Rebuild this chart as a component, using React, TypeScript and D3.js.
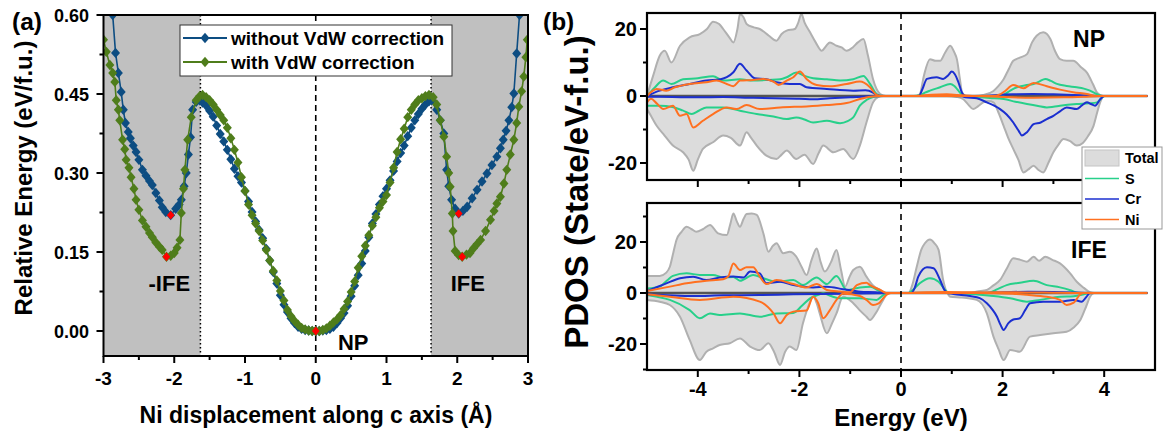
import React from 'react';
import * as d3 from 'd3';

const FONT = "'Liberation Sans', Arial, Helvetica, sans-serif";

// ---------- Panel (a) data: [displacement (Å), relative energy (eV/f.u.)] ----------
const withoutVdW: [number, number][] = [
  [-2.95, 0.72], [-2.87, 0.60], [-2.83, 0.528], [-2.79, 0.49], [-2.75, 0.454], [-2.72, 0.42], [-2.69, 0.395],
  [-2.65, 0.378], [-2.62, 0.366], [-2.58, 0.352], [-2.54, 0.340], [-2.50, 0.325], [-2.45, 0.306], [-2.40, 0.295],
  [-2.35, 0.285], [-2.31, 0.277], [-2.26, 0.262], [-2.21, 0.248], [-2.17, 0.235], [-2.12, 0.226], [-2.05, 0.220],
  [-1.98, 0.232], [-1.93, 0.240], [-1.90, 0.249], [-1.86, 0.275], [-1.83, 0.300], [-1.80, 0.335], [-1.77, 0.368],
  [-1.74, 0.420], [-1.69, 0.435], [-1.64, 0.438],
  [-1.60, 0.434], [-1.55, 0.428], [-1.50, 0.418], [-1.45, 0.407], [-1.40, 0.390], [-1.35, 0.374], [-1.30, 0.360],
  [-1.25, 0.344], [-1.20, 0.326], [-1.15, 0.308], [-1.10, 0.294], [-1.05, 0.282], [-1.00, 0.266], [-0.95, 0.246],
  [-0.90, 0.226], [-0.85, 0.208], [-0.80, 0.192], [-0.75, 0.176], [-0.70, 0.156], [-0.65, 0.134], [-0.60, 0.112],
  [-0.55, 0.090], [-0.50, 0.068], [-0.45, 0.050], [-0.40, 0.036], [-0.35, 0.024], [-0.30, 0.015], [-0.25, 0.008],
  [-0.20, 0.004], [-0.15, 0.002], [-0.10, 0.001], [-0.05, 0.000], [0.00, 0.000], [0.05, 0.000], [0.10, 0.001],
  [0.15, 0.002], [0.20, 0.004], [0.25, 0.008], [0.30, 0.015], [0.35, 0.024], [0.40, 0.034], [0.45, 0.048],
  [0.50, 0.066], [0.55, 0.086], [0.60, 0.106], [0.65, 0.128], [0.70, 0.152], [0.75, 0.178], [0.80, 0.204],
  [0.85, 0.222], [0.90, 0.240], [0.95, 0.256], [1.00, 0.270], [1.05, 0.286], [1.10, 0.304], [1.15, 0.322],
  [1.20, 0.338], [1.25, 0.352], [1.30, 0.370], [1.35, 0.386], [1.40, 0.400], [1.45, 0.412], [1.50, 0.422],
  [1.55, 0.430], [1.60, 0.436], [1.64, 0.438],
  [1.71, 0.420], [1.76, 0.400], [1.81, 0.375], [1.85, 0.306], [1.88, 0.275], [1.92, 0.249], [1.97, 0.232],
  [2.02, 0.223], [2.08, 0.228], [2.14, 0.236], [2.21, 0.252], [2.28, 0.268], [2.35, 0.284], [2.42, 0.299],
  [2.49, 0.315], [2.56, 0.331], [2.61, 0.347], [2.65, 0.363], [2.69, 0.380], [2.73, 0.400], [2.77, 0.425],
  [2.80, 0.451], [2.84, 0.527], [2.88, 0.600], [2.92, 0.680],
];

const withVdW: [number, number][] = [
  [-3.00, 0.553], [-2.96, 0.530], [-2.91, 0.505], [-2.87, 0.490], [-2.84, 0.473], [-2.82, 0.438], [-2.79, 0.420],
  [-2.77, 0.400], [-2.73, 0.363], [-2.70, 0.345], [-2.68, 0.325], [-2.64, 0.310], [-2.61, 0.292], [-2.57, 0.270],
  [-2.54, 0.249], [-2.50, 0.230], [-2.45, 0.210], [-2.40, 0.198], [-2.35, 0.186], [-2.31, 0.178], [-2.26, 0.168],
  [-2.21, 0.160], [-2.17, 0.154], [-2.11, 0.141], [-2.05, 0.143], [-2.00, 0.148], [-1.96, 0.158], [-1.92, 0.173],
  [-1.90, 0.224], [-1.87, 0.270], [-1.85, 0.306], [-1.81, 0.363], [-1.76, 0.406], [-1.69, 0.438], [-1.64, 0.446],
  [-1.60, 0.448], [-1.55, 0.444], [-1.50, 0.438], [-1.45, 0.430], [-1.40, 0.420], [-1.35, 0.410], [-1.30, 0.400],
  [-1.25, 0.386], [-1.20, 0.366], [-1.15, 0.344], [-1.10, 0.320], [-1.05, 0.292], [-1.00, 0.266], [-0.95, 0.240],
  [-0.90, 0.220], [-0.85, 0.204], [-0.80, 0.190], [-0.75, 0.172], [-0.70, 0.154], [-0.65, 0.134], [-0.60, 0.114],
  [-0.55, 0.096], [-0.50, 0.076], [-0.45, 0.058], [-0.40, 0.040], [-0.35, 0.028], [-0.30, 0.019], [-0.25, 0.012],
  [-0.20, 0.006], [-0.15, 0.003], [-0.10, 0.001], [-0.05, 0.000], [0.00, 0.000], [0.05, 0.000], [0.10, 0.002],
  [0.15, 0.005], [0.20, 0.010], [0.25, 0.016], [0.30, 0.022], [0.35, 0.030], [0.40, 0.042], [0.45, 0.056],
  [0.50, 0.074], [0.55, 0.094], [0.60, 0.120], [0.65, 0.142], [0.70, 0.162], [0.75, 0.182], [0.80, 0.200],
  [0.85, 0.216], [0.90, 0.234], [0.95, 0.246], [1.00, 0.258], [1.05, 0.282], [1.10, 0.310], [1.15, 0.340],
  [1.20, 0.364], [1.25, 0.384], [1.30, 0.406], [1.35, 0.420], [1.40, 0.430], [1.45, 0.438], [1.50, 0.442],
  [1.55, 0.446], [1.60, 0.448], [1.66, 0.444],
  [1.71, 0.430], [1.76, 0.400], [1.81, 0.369], [1.85, 0.331], [1.88, 0.300], [1.90, 0.274], [1.93, 0.223],
  [1.94, 0.190], [1.97, 0.152], [2.02, 0.144], [2.07, 0.141], [2.13, 0.145], [2.18, 0.148], [2.23, 0.157],
  [2.28, 0.165], [2.33, 0.173], [2.40, 0.190], [2.47, 0.211], [2.52, 0.228], [2.56, 0.242], [2.61, 0.255],
  [2.66, 0.280], [2.70, 0.306], [2.75, 0.335], [2.80, 0.363], [2.84, 0.395], [2.87, 0.426], [2.91, 0.455],
  [2.94, 0.483], [2.97, 0.520], [2.99, 0.553],
];

const minimaPoints: [number, number][] = [
  [-2.05, 0.220], [-2.11, 0.141], [0.0, 0.0], [2.02, 0.223], [2.07, 0.141],
];

const aXTicks = [-3, -2, -1, 0, 1, 2, 3];
const aXMinor = [-2.5, -1.5, -0.5, 0.5, 1.5, 2.5];
const aYTicks = [0, 0.15, 0.3, 0.45, 0.6];
const aYMinor = [0.075, 0.225, 0.375, 0.525];
const aBoundary = 1.63;

// ---------- Panel (b) data: [energy (eV), PDOS] ----------
const npTotUp: [number, number][] = [
  [-5.0, 0], [-4.88, 6], [-4.75, 12], [-4.65, 13.5], [-4.52, 10], [-4.35, 15], [-4.16, 17.5], [-3.96, 18.5],
  [-3.82, 20], [-3.70, 22.2], [-3.58, 21.5], [-3.50, 20], [-3.38, 17.5], [-3.30, 16], [-3.22, 20], [-3.17, 24.5],
  [-3.10, 23.5], [-3.04, 21.5], [-2.90, 20.5], [-2.78, 20], [-2.60, 18], [-2.45, 16.5], [-2.35, 18.5],
  [-2.25, 19.5], [-2.09, 20], [-2.02, 22], [-1.96, 24.5], [-1.90, 22], [-1.79, 19], [-1.68, 16], [-1.56, 13.5],
  [-1.47, 15], [-1.40, 16], [-1.27, 15], [-1.17, 14.5], [-1.07, 13.5], [-0.95, 14.5], [-0.85, 16], [-0.74, 17],
  [-0.65, 12], [-0.55, 5], [-0.41, 0.6], [-0.30, 0],
  [0.30, 0], [0.37, 0.5], [0.45, 6], [0.57, 11], [0.68, 10.5], [0.77, 10.5], [0.87, 13], [0.97, 15], [1.05, 13],
  [1.10, 11], [1.16, 5], [1.20, 1.1], [1.28, 0],
  [1.45, 0], [1.62, 0.3], [1.82, 1.5], [1.92, 3], [2.02, 5], [2.12, 8], [2.21, 10.5], [2.35, 11.5], [2.48, 12.5],
  [2.58, 16], [2.67, 18], [2.80, 19], [2.94, 17], [3.03, 13.5], [3.13, 11], [3.26, 10.5], [3.39, 10.5],
  [3.55, 8.5], [3.66, 7], [3.78, 3.5], [3.86, 1], [3.98, 0], [4.85, 0],
];
const npTotDn: [number, number][] = [
  [-5.0, -3.9], [-4.92, -6], [-4.81, -8.9], [-4.68, -11.3], [-4.49, -14.8], [-4.29, -16.8], [-4.18, -19],
  [-4.09, -22.3], [-4.0, -19], [-3.90, -15.8], [-3.70, -13.8], [-3.50, -11.8], [-3.35, -12.5], [-3.17, -14.8],
  [-3.04, -10.8], [-2.95, -12.5], [-2.84, -14.8], [-2.65, -17.8], [-2.45, -18.8], [-2.35, -17.5], [-2.25, -16.3],
  [-2.06, -18.8], [-1.90, -17.5], [-1.73, -20.3], [-1.62, -17], [-1.53, -14.8], [-1.33, -16.8], [-1.14, -15.8],
  [-0.94, -18.8], [-0.81, -14.8], [-0.68, -7.9], [-0.55, -1.9], [-0.45, -0.3], [-0.35, 0],
  [0.9, 0], [1.1, -0.3], [1.22, -0.9], [1.32, -2.5], [1.42, -3.9], [1.52, -3], [1.62, -1.9], [1.72, -1.5],
  [1.82, -1.9], [1.92, -5], [2.02, -8.9], [2.11, -12.5], [2.21, -15.8], [2.31, -19], [2.41, -22.8], [2.50, -22],
  [2.61, -20.8], [2.70, -22], [2.80, -22.8], [2.90, -20], [3.00, -16.8], [3.10, -14.5], [3.20, -12.8],
  [3.33, -13.5], [3.46, -14.8], [3.58, -14], [3.68, -12], [3.79, -8.9], [3.86, -5], [3.92, -1.9], [4.0, 0], [4.85, 0],
];
const npSUp: [number, number][] = [
  [-5, 0], [-4.85, 2.5], [-4.68, 4.6], [-4.52, 3.6], [-4.29, 5], [-4.0, 5.3], [-3.70, 5.9], [-3.50, 4.6],
  [-3.17, 5], [-2.91, 4.6], [-2.60, 4.8], [-2.38, 5], [-2.25, 5.6], [-2.06, 7], [-1.90, 6], [-1.73, 5.3],
  [-1.46, 5], [-1.20, 4.6], [-0.94, 5], [-0.74, 6], [-0.61, 3.6], [-0.48, 0.6], [-0.38, 0],
  [0.25, 0], [0.37, 0.2], [0.47, 1], [0.57, 1.6], [0.77, 2.6], [0.97, 3.6], [1.05, 3], [1.13, 1.6], [1.22, 0.2], [1.3, 0],
  [1.95, 0], [2.05, 0.6], [2.15, 1.6], [2.28, 2.6], [2.45, 3.2], [2.61, 3.6], [2.72, 4.3], [2.84, 5.1], [2.95, 4.5],
  [3.07, 3.6], [3.26, 3], [3.46, 2.6], [3.60, 2.2], [3.72, 1.6], [3.85, 0.6], [3.95, 0], [4.85, 0],
];
const npSDn: [number, number][] = [
  [-5, -2.9], [-4.75, -2.9], [-4.5, -3.3], [-4.3, -4.3], [-4.12, -5.4], [-3.98, -4.4], [-3.83, -3.4], [-3.50, -3.4],
  [-3.17, -4.4], [-2.84, -5.4], [-2.51, -6.1], [-2.25, -6.9], [-2.06, -6.4], [-1.90, -7], [-1.73, -7.9],
  [-1.46, -7.4], [-1.20, -8.1], [-1.05, -7.5], [-0.94, -6.4], [-0.81, -2.9], [-0.68, -1.2], [-0.55, -0.3], [-0.45, 0],
  [1.2, 0], [1.5, -0.3], [1.75, -0.6], [2.02, -0.9], [2.25, -1.7], [2.48, -2.4], [2.70, -3], [2.87, -3.4], [3.0, -3.2],
  [3.13, -2.9], [3.46, -2.4], [3.70, -2.2], [3.86, -1.9], [3.95, -0.5], [4.02, 0], [4.85, 0],
];
const npCrUp: [number, number][] = [
  [-5, 0], [-4.75, 1.6], [-4.49, 2.6], [-4.16, 3.6], [-3.83, 4.6], [-3.55, 5], [-3.43, 5.6], [-3.30, 7.1],
  [-3.17, 9.6], [-3.04, 7.6], [-2.88, 5.3], [-2.65, 5], [-2.45, 4.1], [-2.19, 3.6], [-1.99, 3.6], [-1.86, 2.6],
  [-1.46, 2.1], [-0.94, 1.6], [-0.7, 1.7], [-0.55, 1], [-0.48, 0.3], [-0.4, 0],
  [0.35, 0], [0.42, 2], [0.51, 5.1], [0.70, 5.6], [0.83, 5.1], [0.93, 6.2], [1.0, 7.3], [1.06, 6.5], [1.13, 4.1],
  [1.20, 1], [1.26, 0],
  [1.6, 0], [1.9, 0.3], [2.2, 0.5], [2.6, 0.6], [3.0, 0.5], [3.4, 0.3], [3.7, 0.1], [3.9, 0], [4.85, 0],
];
const npCrDn: [number, number][] = [
  [-5, -0.2], [-4.5, -0.3], [-4.0, -0.4], [-3.5, -0.3], [-3.0, -0.5], [-2.5, -0.7], [-2.0, -0.8], [-1.73, -1.0],
  [-1.4, -0.7], [-1.0, -0.4], [-0.6, -0.1], [-0.4, 0],
  [1.2, 0], [1.26, -0.4], [1.49, -0.7], [1.69, -1.9], [1.95, -3.9], [2.08, -5.5], [2.21, -7.9], [2.32, -10.5],
  [2.38, -11.8], [2.48, -10.8], [2.61, -8.4], [2.75, -7.9], [2.87, -6.9], [3.0, -5.9], [3.13, -4.6], [3.26, -3.4],
  [3.46, -3.9], [3.56, -2.8], [3.66, -1.9], [3.74, -2.4], [3.82, -2.9], [3.92, -1], [4.0, 0], [4.85, 0],
];
const npNiUp: [number, number][] = [
  [-5, 0], [-4.81, 2.1], [-4.62, 1.6], [-4.45, 2.6], [-4.16, 3.6], [-3.83, 4.1], [-3.63, 4.6], [-3.43, 3.6],
  [-3.30, 2.9], [-3.17, 4.6], [-2.91, 4.8], [-2.71, 5.1], [-2.51, 4.3], [-2.41, 3.3], [-2.25, 4.6], [-2.12, 5.6],
  [-1.99, 7.3], [-1.86, 5.1], [-1.66, 3.3], [-1.40, 2.9], [-1.07, 3.6], [-0.81, 4.3], [-0.61, 2.6], [-0.48, 0.3], [-0.4, 0],
  [0.3, 0], [0.6, 0.4], [0.9, 0.5], [1.2, 0.2], [1.4, 0],
  [1.8, 0], [1.95, 0.5], [2.05, 1.5], [2.21, 3.3], [2.41, 2.3], [2.61, 3.9], [2.87, 2.9], [3.13, 1.9], [3.39, 1.1],
  [3.66, 0.6], [3.85, 0], [4.85, 0],
];
const npNiDn: [number, number][] = [
  [-5, -1.9], [-4.92, -0.8], [-4.81, -2.2], [-4.68, -3.9], [-4.49, -2.9], [-4.35, -5.9], [-4.22, -5.4],
  [-4.09, -9.4], [-3.90, -7.4], [-3.70, -5.4], [-3.43, -3.4], [-3.24, -3.9], [-3.04, -2.7], [-2.78, -3.9],
  [-2.38, -3.4], [-1.86, -3.1], [-1.46, -2.7], [-1.07, -2.1], [-0.81, -0.9], [-0.6, -0.2], [-0.45, 0],
  [1.5, 0], [2.0, -0.3], [2.6, -0.5], [3.2, -0.4], [3.6, -0.2], [3.9, 0], [4.85, 0],
];

const ifeTotUp: [number, number][] = [
  [-5, 6.7], [-4.75, 6.7], [-4.62, 8], [-4.55, 10.3], [-4.48, 16], [-4.42, 20.8], [-4.32, 24], [-4.22, 26],
  [-4.12, 25], [-4.03, 24], [-3.90, 25], [-3.76, 26.7], [-3.60, 23.4], [-3.43, 22.7], [-3.36, 27], [-3.30, 31.2],
  [-3.23, 28], [-3.17, 26], [-3.10, 29], [-3.04, 31], [-2.94, 31.2], [-2.84, 30.6], [-2.71, 23.4], [-2.61, 16.2],
  [-2.52, 18.5], [-2.45, 19.5], [-2.32, 15.6], [-2.19, 16.2], [-2.06, 14.2], [-1.95, 10], [-1.86, 7.1],
  [-1.76, 13], [-1.66, 17.5], [-1.58, 12], [-1.50, 8.4], [-1.38, 12], [-1.27, 16.9], [-1.18, 9], [-1.10, 2.5],
  [-1.02, 6], [-0.94, 9], [-0.81, 10.3], [-0.68, 6.4], [-0.55, 3], [-0.41, 1.2], [-0.3, 0],
  [0.15, 0], [0.22, 3], [0.31, 10.3], [0.40, 17], [0.47, 19.5], [0.57, 21], [0.66, 19.5], [0.74, 16.9],
  [0.83, 5.1], [0.93, 0],
  [1.35, 0], [1.5, 0.6], [1.69, 1.2], [1.82, 3], [1.95, 5.1], [2.08, 9.5], [2.21, 13.6], [2.35, 13], [2.48, 12.3],
  [2.61, 14.2], [2.72, 12.6], [2.84, 14.2], [2.98, 13], [3.13, 11.6], [3.33, 7.7], [3.46, 4.4], [3.60, 2],
  [3.72, 0.3], [3.8, 0], [4.85, 0],
];
const ifeTotDn: [number, number][] = [
  [-5, -2.7], [-4.75, -3.4], [-4.55, -4.7], [-4.35, -9.3], [-4.16, -18.4], [-3.96, -26.3], [-3.83, -23],
  [-3.70, -21.7], [-3.57, -20.4], [-3.37, -19.7], [-3.17, -17.8], [-2.97, -21], [-2.78, -22.4], [-2.61, -19.7],
  [-2.50, -23], [-2.38, -28.2], [-2.28, -23], [-2.19, -21], [-2.06, -22.4], [-1.93, -11.9], [-1.80, -4],
  [-1.73, -1.5], [-1.66, -4], [-1.60, -8], [-1.46, -15.8], [-1.36, -12], [-1.27, -8], [-1.14, -1.5], [-0.94, -4],
  [-0.80, -7], [-0.68, -9.3], [-0.61, -10.6], [-0.50, -8], [-0.35, -2.7], [-0.25, 0],
  [0.9, 0], [0.97, -1.5], [1.2, -1.8], [1.49, -2.7], [1.69, -8], [1.82, -17.1], [1.92, -22], [2.02, -26.3],
  [2.15, -22.4], [2.34, -23], [2.54, -17.1], [2.74, -16.5], [3.0, -15.8], [3.26, -15.2], [3.40, -13.5],
  [3.53, -10.6], [3.65, -5], [3.72, -1.5], [3.8, 0], [4.85, 0],
];
const ifeSUp: [number, number][] = [
  [-5, 1.8], [-4.75, 2.5], [-4.60, 5], [-4.49, 6.7], [-4.22, 7.7], [-3.96, 7.1], [-3.70, 7.1], [-3.50, 6.1],
  [-3.30, 6.3], [-3.17, 4.8], [-2.91, 7.1], [-2.71, 5.8], [-2.45, 4.4], [-2.12, 5.1], [-1.93, 3.1], [-1.66, 6.1],
  [-1.46, 3.5], [-1.27, 6.7], [-1.07, 1.2], [-0.81, 2.2], [-0.6, 2.5], [-0.45, 1], [-0.35, 0],
  [0.15, 0], [0.25, 1.5], [0.37, 3.8], [0.57, 5.8], [0.74, 4.4], [0.87, 1.2], [0.95, 0],
  [1.7, 0], [1.9, 1.5], [2.08, 3.1], [2.34, 4], [2.61, 4.8], [2.87, 3.1], [3.13, 2.2], [3.35, 1], [3.5, 0], [4.85, 0],
];
const ifeSDn: [number, number][] = [
  [-5, -0.8], [-4.8, -1.5], [-4.55, -2.7], [-4.16, -6.7], [-3.96, -9.9], [-3.76, -8], [-3.57, -8.6], [-3.17, -8],
  [-2.78, -9.3], [-2.45, -8], [-2.12, -7.8], [-1.95, -5], [-1.79, -2.1], [-1.60, -0.5], [-1.53, -0.1],
  [-1.38, -1.2], [-1.20, -2.1], [-0.81, -2.1], [-0.48, -2.7], [-0.35, -0.8], [-0.25, 0],
  [1.0, 0], [1.4, -0.4], [1.82, -1.2], [2.15, -2.1], [2.48, -3.4], [2.74, -2.7], [3.13, -1.5], [3.4, -1.3],
  [3.6, -0.5], [3.7, 0], [4.85, 0],
];
const ifeCrUp: [number, number][] = [
  [-5, 0.8], [-4.62, 3.8], [-4.35, 5.8], [-4.09, 6.4], [-3.83, 5.1], [-3.57, 6.1], [-3.30, 6.5], [-3.10, 6.1],
  [-2.97, 8.4], [-2.78, 7.7], [-2.65, 3.8], [-2.38, 4.4], [-2.12, 3.1], [-1.73, 2.2], [-1.46, 2.5], [-1.14, 1.5],
  [-0.8, 0.5], [-0.5, 0.3], [-0.3, 0],
  [0.2, 0], [0.27, 2], [0.34, 6.4], [0.51, 10.1], [0.64, 9.7], [0.77, 5.1], [0.86, 1], [0.92, 0],
  [1.6, 0], [2.0, 0.3], [2.5, 0.5], [3.0, 0.4], [3.4, 0.2], [3.7, 0], [4.85, 0],
];
const ifeCrDn: [number, number][] = [
  [-5, -0.5], [-4.09, -1.2], [-3.5, -0.9], [-2.78, -0.8], [-2.12, -0.5], [-1.14, -0.3], [-0.5, -0.1], [-0.3, 0],
  [0.92, 0], [1.03, -0.4], [1.36, -1.2], [1.55, -2], [1.69, -4], [1.80, -6.5], [1.89, -9.3], [1.96, -12.5],
  [2.02, -14.5], [2.11, -11.9], [2.20, -10.5], [2.34, -9.9], [2.45, -6.5], [2.54, -4], [2.80, -3.4], [3.13, -3.4],
  [3.40, -2.7], [3.56, -3.4], [3.65, -1.5], [3.72, 0], [4.85, 0],
];
const ifeNiUp: [number, number][] = [
  [-5, 0.8], [-4.55, 2.5], [-4.22, 3.8], [-3.83, 4.8], [-3.50, 5.4], [-3.40, 6.5], [-3.30, 11.6], [-3.17, 9],
  [-3.04, 10.1], [-2.91, 10.1], [-2.78, 6.4], [-2.65, 3.5], [-2.45, 5.1], [-2.12, 3.5], [-1.86, 2.2], [-1.66, 3.5],
  [-1.46, 1.2], [-1.2, 0.6], [-1.0, 0.3], [-0.87, 3.1], [-0.68, 4], [-0.61, 3.1], [-0.41, 1.2], [-0.29, 0],
  [0.2, 0], [0.5, 0.3], [0.9, 0.4], [1.3, 0.3], [1.6, 0.2], [2.2, 0.3], [2.6, 0.2], [3.0, 0.1], [3.4, 0], [4.85, 0],
];
const ifeNiDn: [number, number][] = [
  [-5, -0.5], [-4.55, -1.5], [-3.96, -2.7], [-3.30, -1.5], [-2.78, -3.4], [-2.51, -8], [-2.38, -11.9],
  [-2.25, -8.6], [-2.12, -7.3], [-1.86, -6.9], [-1.73, -1.5], [-1.63, -4], [-1.53, -9.9], [-1.40, -6.7],
  [-1.27, -2.7], [-1.14, -0.3], [-0.81, -1.2], [-0.68, -2.7], [-0.55, -4.7], [-0.45, -4.2], [-0.29, -0.8], [-0.2, 0],
  [1.5, 0], [2.2, -0.3], [2.48, -0.7], [2.87, -1.5], [3.13, -2.7], [3.26, -4.7], [3.40, -3.8], [3.53, -0.5],
  [3.6, 0], [4.85, 0],
];

const bXTicks = [-4, -2, 0, 2, 4];
const bXMinor = [-3, -1, 1, 3];
const bYTicks = [-20, 0, 20];
const bTopYMinor = [-10, 10];
const bBotYMinor = [-30, -10, 10, 30];

const legendA = ['without VdW correction', 'with VdW correction'];
const legendB = ['Total', 'S', 'Cr', 'Ni'];

const C_BLUE = '#0d4d82';
const C_GREEN = '#4f7d1b';
const C_S = '#27d08a';
const C_CR = '#1b2fd0';
const C_NI = '#ff7020';
const C_TOT_FILL = '#dcdcdc';
const C_TOT_LINE = '#b0b0b0';

function diamondPath(cx: number, cy: number, hw = 4.5, hh = 5.2) {
  return `M${cx},${cy - hh}L${cx + hw},${cy}L${cx},${cy + hh}L${cx - hw},${cy}Z`;
}

type Sub = {
  id: string;
  top: number;
  bottom: number;
  y0: number;
  y20: number;
  minor: number[];
  tUp: [number, number][];
  tDn: [number, number][];
  sUp: [number, number][];
  sDn: [number, number][];
  crUp: [number, number][];
  crDn: [number, number][];
  niUp: [number, number][];
  niDn: [number, number][];
  label: string;
  labelY: number;
  showXLabels: boolean;
};

export default function App() {
  // ---------- Panel (a) ----------
  const aL = 103.5, aR = 528, aT = 15, aB = 356;
  const xA = d3.scaleLinear().domain([-3, 3]).range([aL, aR]);
  const yA = d3.scaleLinear().domain([0, 0.6]).range([331, aT]);
  const lineA = d3.line<[number, number]>().x((d) => xA(d[0])).y((d) => yA(d[1]));

  // ---------- Panel (b) ----------
  const bL = 647, bR = 1155;
  const xB = d3.scaleLinear().domain([-5, 5]).range([bL, bR]);

  const subs: Sub[] = [
    {
      id: 'np', top: 13, bottom: 180, y0: 96, y20: 29, minor: bTopYMinor,
      tUp: npTotUp, tDn: npTotDn, sUp: npSUp, sDn: npSDn, crUp: npCrUp, crDn: npCrDn, niUp: npNiUp, niDn: npNiDn,
      label: 'NP', labelY: 47, showXLabels: false,
    },
    {
      id: 'ife', top: 203, bottom: 370, y0: 293, y20: 242, minor: bBotYMinor,
      tUp: ifeTotUp, tDn: ifeTotDn, sUp: ifeSUp, sDn: ifeSDn, crUp: ifeCrUp, crDn: ifeCrDn, niUp: ifeNiUp, niDn: ifeNiDn,
      label: 'IFE', labelY: 258, showXLabels: true,
    },
  ];

  const bold = { fontFamily: FONT, fontWeight: 700 as const, fill: '#000' };

  return (
    <svg width={1165} height={437} style={{ position: 'absolute', left: 0, top: 0, background: '#fff' }}>
      <defs>
        <clipPath id="clipA">
          <rect x={aL} y={aT} width={aR - aL} height={aB - aT} />
        </clipPath>
        {subs.map((s) => (
          <clipPath id={`clip-${s.id}`} key={s.id}>
            <rect x={bL} y={s.top} width={bR - bL} height={s.bottom - s.top} />
          </clipPath>
        ))}
      </defs>
      <rect x={0} y={0} width={1165} height={437} fill="#fff" />

      {/* ================= Panel (a) ================= */}
      <rect x={aL} y={aT} width={xA(-aBoundary) - aL} height={aB - aT} fill="#c0c0c0" />
      <rect x={xA(aBoundary)} y={aT} width={aR - xA(aBoundary)} height={aB - aT} fill="#c0c0c0" />
      <line x1={xA(-aBoundary)} x2={xA(-aBoundary)} y1={aT} y2={aB} stroke="#000" strokeWidth={1.5} strokeDasharray="1.5,2.5" />
      <line x1={xA(aBoundary)} x2={xA(aBoundary)} y1={aT} y2={aB} stroke="#000" strokeWidth={1.5} strokeDasharray="1.5,2.5" />
      <line x1={xA(0)} x2={xA(0)} y1={aT} y2={aB} stroke="#000" strokeWidth={1.6} strokeDasharray="6,4" />

      <g clipPath="url(#clipA)">
        <path d={lineA(withoutVdW) || ''} fill="none" stroke={C_BLUE} strokeWidth={1.6} />
        {withoutVdW.map((d, i) => (
          <path key={`b${i}`} d={diamondPath(xA(d[0]), yA(d[1]))} fill={C_BLUE} />
        ))}
        <path d={lineA(withVdW) || ''} fill="none" stroke={C_GREEN} strokeWidth={1.6} />
        {withVdW.map((d, i) => (
          <path key={`g${i}`} d={diamondPath(xA(d[0]), yA(d[1]))} fill={C_GREEN} />
        ))}
        {minimaPoints.map((d, i) => (
          <path key={`r${i}`} d={diamondPath(xA(d[0]), yA(d[1]), 3.8, 4.4)} fill="#ff0000" />
        ))}
      </g>

      {/* frame */}
      <rect x={aL} y={aT} width={aR - aL} height={aB - aT} fill="none" stroke="#000" strokeWidth={2} />
      {aXTicks.map((t) => (
        <g key={`ax${t}`}>
          <line x1={xA(t)} x2={xA(t)} y1={aB} y2={aB + 7} stroke="#000" strokeWidth={2} />
          <text x={xA(t)} y={385} textAnchor="middle" fontSize={19} {...bold}>{t}</text>
        </g>
      ))}
      {aXMinor.map((t) => (
        <line key={`axm${t}`} x1={xA(t)} x2={xA(t)} y1={aB} y2={aB + 4} stroke="#000" strokeWidth={2} />
      ))}
      {aYTicks.map((t) => (
        <g key={`ay${t}`}>
          <line x1={aL - 7} x2={aL} y1={yA(t)} y2={yA(t)} stroke="#000" strokeWidth={2} />
          <text x={89} y={yA(t) + 6.5} textAnchor="end" fontSize={18} {...bold}>{t.toFixed(2)}</text>
        </g>
      ))}
      {aYMinor.map((t) => (
        <line key={`aym${t}`} x1={aL - 4} x2={aL} y1={yA(t)} y2={yA(t)} stroke="#000" strokeWidth={2} />
      ))}

      {/* region labels */}
      <text x={xA(-2.07)} y={291} textAnchor="middle" fontSize={22} {...bold}>-IFE</text>
      <text x={xA(2.15)} y={291} textAnchor="middle" fontSize={22} {...bold}>IFE</text>
      <text x={xA(0.53)} y={350} textAnchor="middle" fontSize={22} {...bold}>NP</text>

      {/* legend a */}
      <rect x={180} y={25} width={272} height={51} fill="#fff" stroke="#333" strokeWidth={1} />
      {legendA.map((lab, i) => {
        const cy = 38 + i * 24;
        const col = i === 0 ? C_BLUE : C_GREEN;
        return (
          <g key={lab}>
            <line x1={183} x2={227} y1={cy} y2={cy} stroke={col} strokeWidth={2} />
            <path d={diamondPath(205, cy)} fill={col} />
            <text x={231} y={cy + 6.5} fontSize={19} {...bold}>{lab}</text>
          </g>
        );
      })}

      {/* axis titles a */}
      <text x={316} y={423} textAnchor="middle" fontSize={23} {...bold}>Ni displacement along c axis (Å)</text>
      <text transform="translate(32,178) rotate(-90)" textAnchor="middle" fontSize={24} {...bold}>Relative Energy (eV/f.u.)</text>
      <text x={12} y={30} fontSize={24.5} {...bold}>(a)</text>

      {/* ================= Panel (b) ================= */}
      <text x={543} y={30} fontSize={24.5} {...bold}>(b)</text>
      {subs.map((s) => {
        const y = d3.scaleLinear().domain([0, 20]).range([s.y0, s.y20]);
        const area = d3.area<[number, number]>().x((d) => xB(d[0])).y0(y(0)).y1((d) => y(d[1])).curve(d3.curveMonotoneX);
        const line = d3.line<[number, number]>().x((d) => xB(d[0])).y((d) => y(d[1])).curve(d3.curveMonotoneX);
        return (
          <g key={s.id}>
            <g clipPath={`url(#clip-${s.id})`}>
              <path d={area(s.tUp) || ''} fill={C_TOT_FILL} />
              <path d={area(s.tDn) || ''} fill={C_TOT_FILL} />
              <path d={line(s.tUp) || ''} fill="none" stroke={C_TOT_LINE} strokeWidth={2} />
              <path d={line(s.tDn) || ''} fill="none" stroke={C_TOT_LINE} strokeWidth={2} />
              <line x1={xB(-5)} x2={xB(4.85)} y1={y(0)} y2={y(0)} stroke="#555" strokeWidth={2.5} />
              <path d={line(s.sUp) || ''} fill="none" stroke={C_S} strokeWidth={2} />
              <path d={line(s.sDn) || ''} fill="none" stroke={C_S} strokeWidth={2} />
              <path d={line(s.crUp) || ''} fill="none" stroke={C_CR} strokeWidth={2} />
              <path d={line(s.crDn) || ''} fill="none" stroke={C_CR} strokeWidth={2} />
              <path d={line(s.niUp) || ''} fill="none" stroke={C_NI} strokeWidth={2} />
              <path d={line(s.niDn) || ''} fill="none" stroke={C_NI} strokeWidth={2} />
              <line x1={xB(0)} x2={xB(0)} y1={s.top} y2={s.bottom} stroke="#000" strokeWidth={1.6} strokeDasharray="6,5" />
            </g>
            <rect x={bL} y={s.top} width={bR - bL} height={s.bottom - s.top} fill="none" stroke="#000" strokeWidth={2.2} />
            {bXTicks.map((t) => (
              <g key={`bx${s.id}${t}`}>
                <line x1={xB(t)} x2={xB(t)} y1={s.bottom} y2={s.bottom + 7} stroke="#000" strokeWidth={2} />
                {s.showXLabels && (
                  <text x={xB(t)} y={396} textAnchor="middle" fontSize={20} {...bold}>{t}</text>
                )}
              </g>
            ))}
            {bXMinor.map((t) => (
              <line key={`bxm${s.id}${t}`} x1={xB(t)} x2={xB(t)} y1={s.bottom} y2={s.bottom + 4} stroke="#000" strokeWidth={2} />
            ))}
            {bYTicks.map((t) => (
              <g key={`by${s.id}${t}`}>
                <line x1={bL - 7} x2={bL} y1={y(t)} y2={y(t)} stroke="#000" strokeWidth={2} />
                <text x={637} y={y(t) + 7} textAnchor="end" fontSize={20} {...bold}>{t}</text>
              </g>
            ))}
            {s.minor.map((t) => (
              <line key={`bym${s.id}${t}`} x1={bL - 4} x2={bL} y1={y(t)} y2={y(t)} stroke="#000" strokeWidth={2} />
            ))}
            <text x={1089} y={s.labelY} textAnchor="middle" fontSize={23} {...bold}>{s.label}</text>
          </g>
        );
      })}

      {/* legend b */}
      <rect x={1082} y={147} width={80} height={82} fill="#fff" stroke="#999" strokeWidth={1} />
      {legendB.map((lab, i) => {
        const cy = 158 + i * 20.5;
        const col = [C_TOT_FILL, C_S, C_CR, C_NI][i];
        return (
          <g key={lab}>
            {i === 0 ? (
              <rect x={1085} y={cy - 8} width={34} height={16} fill={C_TOT_FILL} stroke="#c4c4c4" strokeWidth={1} />
            ) : (
              <line x1={1085} x2={1119} y1={cy} y2={cy} stroke={col} strokeWidth={1.5} />
            )}
            <text x={1125} y={cy + 5} fontSize={14.5} {...bold}>{lab}</text>
          </g>
        );
      })}

      {/* axis titles b */}
      <text x={901} y={426} textAnchor="middle" fontSize={24} {...bold}>Energy (eV)</text>
      <text transform="translate(588,192) rotate(-90)" textAnchor="middle" fontSize={33} {...bold}>PDOS (State/eV-f.u.)</text>
    </svg>
  );
}
